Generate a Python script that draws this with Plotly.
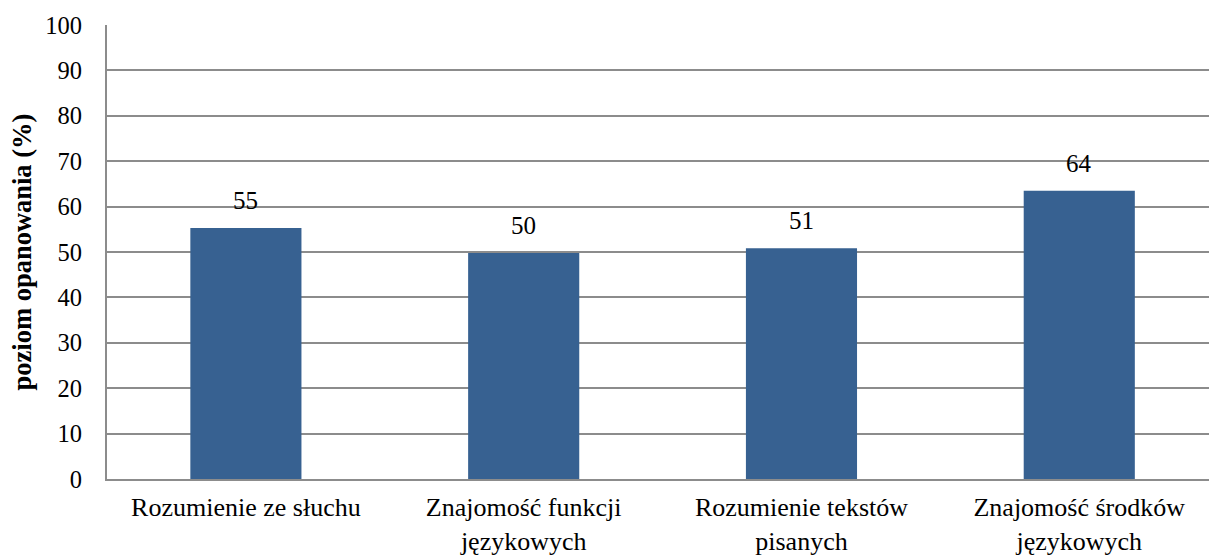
import plotly.graph_objects as go

# Skill areas and mastery levels (%)
categories = [
    "Rozumienie ze słuchu",
    "Znajomość funkcji<br>językowych",
    "Rozumienie tekstów<br>pisanych",
    "Znajomość środków<br>językowych",
]
mastery = [55.3, 49.8, 50.8, 63.5]
y_ticks = [0, 10, 20, 30, 40, 50, 60, 70, 80, 90, 100]

BAR_COLOR = "#376191"
GRID_COLOR = "#8c8c8c"
FONT = "Liberation Serif"

x_pos = list(range(len(categories)))

fig = go.Figure()
fig.add_trace(go.Bar(
    x=x_pos,
    y=mastery,
    width=0.4,
    marker=dict(color=BAR_COLOR, line=dict(width=0)),
    hoverinfo="skip",
))

# Value labels above each bar
for xi, v in zip(x_pos, mastery):
    fig.add_annotation(
        x=xi, y=v, text=f"{v:.0f}",
        showarrow=False, yanchor="bottom", yshift=12,
        font=dict(family=FONT, size=25, color="#000000"),
    )

fig.update_layout(
    width=1209, height=557,
    margin=dict(l=107, r=0, t=25, b=78),
    paper_bgcolor="white", plot_bgcolor="white",
    showlegend=False,
    font=dict(family=FONT, color="#000000"),
    xaxis=dict(
        range=[-0.5, 3.467],
        tickmode="array", tickvals=x_pos, ticktext=categories,
        tickfont=dict(family=FONT, size=26, color="#000000"),
        showgrid=False, zeroline=False,
        showline=True, linecolor=GRID_COLOR, linewidth=2,
        ticks="", ticklabelstandoff=4,
        fixedrange=True,
    ),
    yaxis=dict(
        range=[0, 100],
        tickmode="array", tickvals=y_ticks,
        tickfont=dict(family=FONT, size=24.5, color="#000000"),
        showgrid=True, gridcolor=GRID_COLOR, gridwidth=2,
        zeroline=False,
        showline=True, linecolor=GRID_COLOR, linewidth=2,
        ticks="", ticklabelstandoff=18,
        title=dict(text="<b>poziom opanowania (%)</b>",
                   font=dict(family=FONT, size=26.5, color="#000000"),
                   standoff=6),
        fixedrange=True,
    ),
)

fig.write_html("out.html")
